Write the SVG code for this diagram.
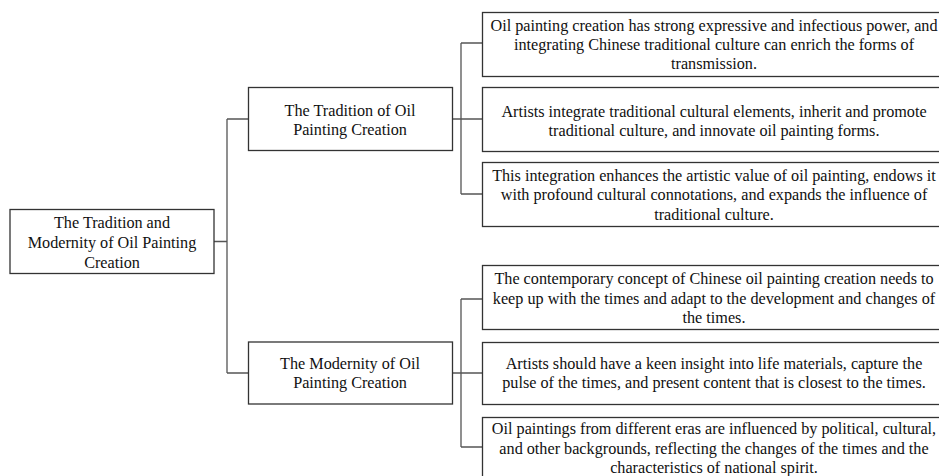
<svg xmlns="http://www.w3.org/2000/svg" width="939" height="476" viewBox="0 0 939 476">
<style>
.box{fill:#fff;stroke:#333;stroke-width:1.3}
.t{font-family:"Liberation Serif","Times New Roman",serif;font-size:16.2px;fill:#111;text-anchor:middle}
.c{fill:none;stroke:#555;stroke-width:1.3}
</style>
<rect width="939" height="476" fill="#fff"/>
<g id="connectors">
<path class="c" d="M214 241.5H227M227 119V373M227 119H248M227 373H248"/>
<path class="c" d="M452 119H461M461 43V194M461 43H482M461 119H482M461 194H482"/>
<path class="c" d="M452 373H461M461 299V447M461 299H482M461 373H482M461 447H482"/>
</g>
<g id="root">
<rect class="box" x="10" y="209.5" width="204" height="64"/>
<text class="t" x="112" y="228">The Tradition and</text>
<text class="t" x="112" y="248">Modernity of Oil Painting</text>
<text class="t" x="112" y="268">Creation</text>
</g>
<g id="tradition">
<rect class="box" x="248.5" y="87.5" width="204" height="63"/>
<text class="t" x="350" y="116">The Tradition of Oil</text>
<text class="t" x="350" y="135">Painting Creation</text>
</g>
<g id="modernity">
<rect class="box" x="248.5" y="342" width="204" height="62"/>
<text class="t" x="350" y="369">The Modernity of Oil</text>
<text class="t" x="350" y="388">Painting Creation</text>
</g>
<g id="t1">
<rect class="box" x="482.5" y="12.5" width="462" height="64"/>
<text class="t" x="714" y="31">Oil painting creation has strong expressive and infectious power, and</text>
<text class="t" x="714" y="50">integrating Chinese traditional culture can enrich the forms of</text>
<text class="t" x="714" y="69">transmission.</text>
</g>
<g id="t2">
<rect class="box" x="482.5" y="87.5" width="462" height="64"/>
<text class="t" x="714" y="117">Artists integrate traditional cultural elements, inherit and promote</text>
<text class="t" x="714" y="136">traditional culture, and innovate oil painting forms.</text>
</g>
<g id="t3">
<rect class="box" x="482.5" y="162.5" width="462" height="64"/>
<text class="t" x="714" y="181">This integration enhances the artistic value of oil painting, endows it</text>
<text class="t" x="714" y="200">with profound cultural connotations, and expands the influence of</text>
<text class="t" x="714" y="220">traditional culture.</text>
</g>
<g id="m1">
<rect class="box" x="482.5" y="265.5" width="462" height="64"/>
<text class="t" x="714" y="284">The contemporary concept of Chinese oil painting creation needs to</text>
<text class="t" x="714" y="304">keep up with the times and adapt to the development and changes of</text>
<text class="t" x="714" y="323">the times.</text>
</g>
<g id="m2">
<rect class="box" x="482.5" y="342.5" width="462" height="62"/>
<text class="t" x="714" y="369">Artists should have a keen insight into life materials, capture the</text>
<text class="t" x="714" y="388">pulse of the times, and present content that is closest to the times.</text>
</g>
<g id="m3">
<rect class="box" x="482.5" y="417.5" width="462" height="64"/>
<text class="t" x="714" y="434">Oil paintings from different eras are influenced by political, cultural,</text>
<text class="t" x="714" y="454">and other backgrounds, reflecting the changes of the times and the</text>
<text class="t" x="714" y="473">characteristics of national spirit.</text>
</g>
</svg>
